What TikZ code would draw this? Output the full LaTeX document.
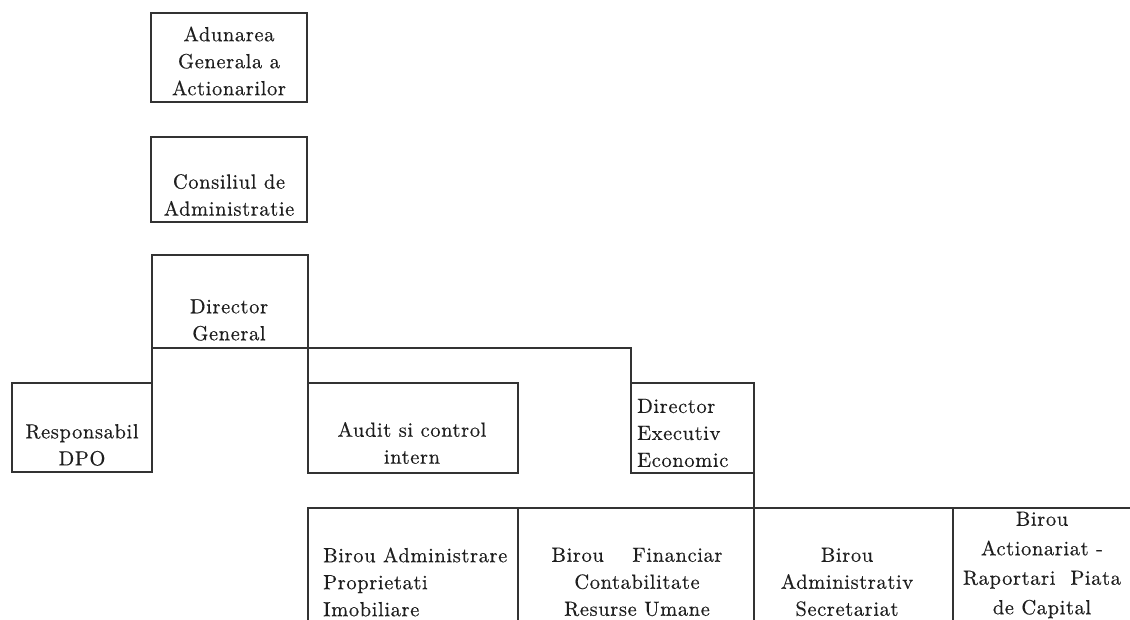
\documentclass[tikz,border=0pt]{standalone}
\usepackage{fontspec}
\setmainfont{lmroman10-regular.otf}[FakeBold=0.4, LetterSpace=3]
\definecolor{linec}{HTML}{333333}
\definecolor{textc}{HTML}{1E1E1E}
\begin{document}
\begin{tikzpicture}[x=1pt,y=-1pt,
  box/.style={draw=linec, line width=2pt, rectangle, inner sep=0pt, outer sep=0pt, anchor=north west},
  lbl/.style={text=textc, font=\fontsize{20.5}{27}\selectfont, align=center, inner sep=0pt},
  lbll/.style={lbl, align=left, anchor=west},
  conn/.style={draw=linec, line width=2pt}]
\useasboundingbox (0,0) rectangle (1130,620);
\clip (0,0) rectangle (1130,620);
% boxes
\node[box, minimum width=156pt, minimum height=89pt] (aga) at (151,13) {};
\node[box, minimum width=156pt, minimum height=85pt] (ca) at (151,137) {};
\node[box, minimum width=156pt, minimum height=93pt] (dg) at (152,255) {};
\node[box, minimum width=140pt, minimum height=89pt] (dpo) at (12,383) {};
\node[box, minimum width=210pt, minimum height=90pt] (aud) at (308,383) {};
\node[box, minimum width=123pt, minimum height=90pt] (dee) at (631,383) {};
\node[box, minimum width=210pt, minimum height=140pt] (b1) at (308,508) {};
\node[box, minimum width=236pt, minimum height=140pt] (b2) at (518,508) {};
\node[box, minimum width=199pt, minimum height=140pt] (b3) at (754,508) {};
\node[box, minimum width=200pt, minimum height=140pt] (b4) at (953,508) {};
% texts
\node[lbl] (t-aga) at (229,61) {Adunarea\\Generala a\\Actionarilor};
\node[lbl] (t-ca) at (229,195) {Consiliul de\\Administratie};
\node[lbl] (t-dg) at (229,320) {Director\\General};
\node[lbl] (t-dpo) at (82,445) {Responsabil\\DPO};
\node[lbl] (t-aud) at (412,443) {Audit si control\\intern};
\node[lbll] (t-dee) at (637,433) {Director\\Executiv\\Economic};
\node[lbll] (t-b1) at (323,582) {Birou Administrare\\Proprietati\\Imobiliare};
\node[lbl] (t-b2) at (637,582) {\makebox[171pt]{Birou\hfill Financiar}\\Contabilitate\\Resurse Umane};
\node[lbl] (t-b3) at (847,582) {Birou\\Administrativ\\Secretariat};
\node[lbl, font=\fontsize{20.5}{29.5}\selectfont] (t-b4) at (1042,565) {Birou\\Actionariat -\\Raportari~~Piata\\de Capital};
% connectors
\draw[conn] (dg.south west) -- (dpo.north east);
\draw[conn] (dg.south east) -- (aud.north west);
\draw[conn] (dg.south east) -| (dee.north west);
\draw[conn] (dee.south east) -- (b2.north east);
\draw[conn] (b4.north east) -- (1135,508);
\end{tikzpicture}
\end{document}
